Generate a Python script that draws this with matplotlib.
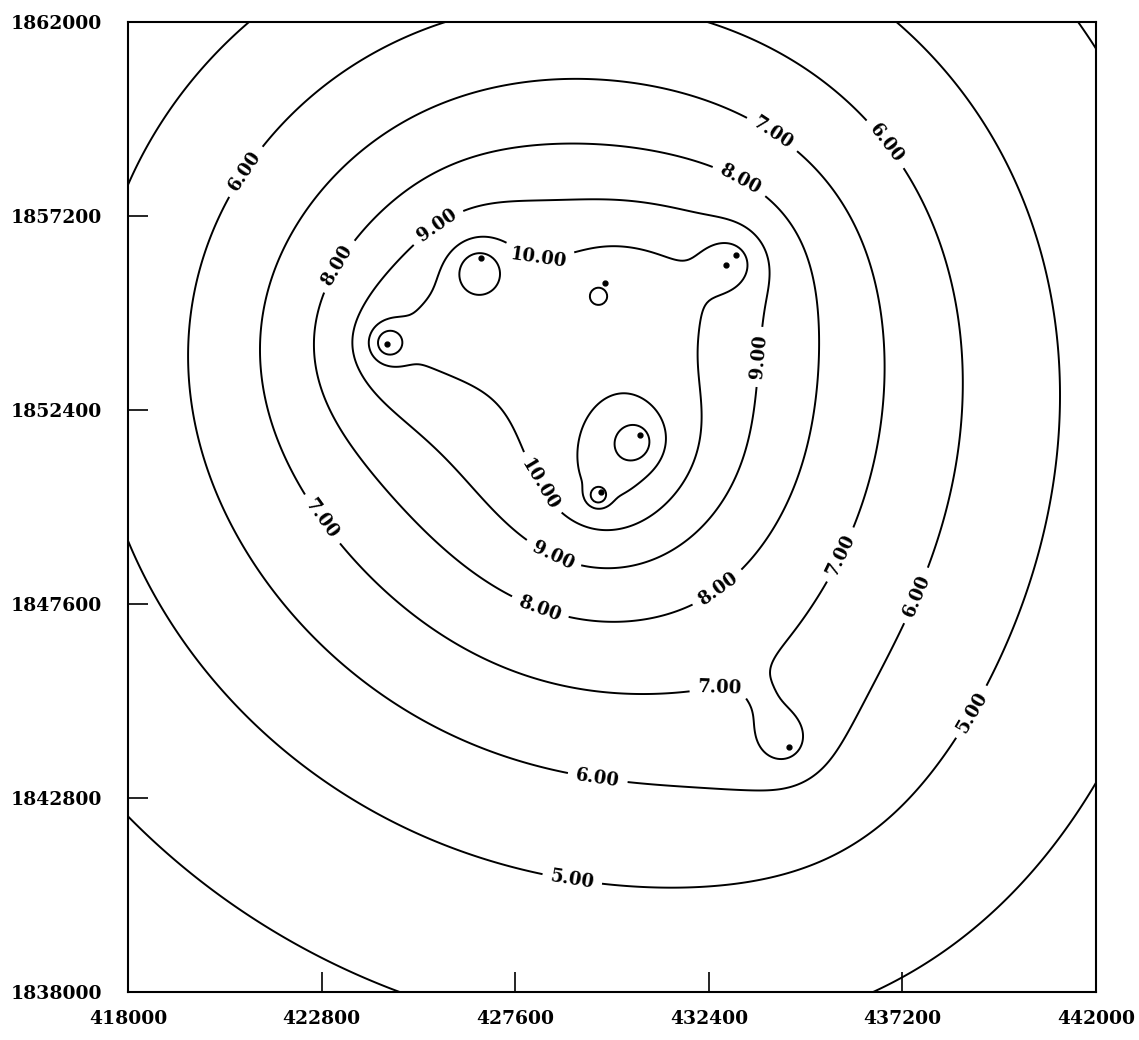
import numpy as np
import matplotlib.pyplot as plt

plt.rcParams['font.family'] = 'DejaVu Serif'

# wells (easting, northing) and their strength
well_x = [424420, 426750, 429825, 433070, 432825, 430690, 429725, 434385]
well_y = [1854035, 1856160, 1855545, 1856235, 1855990, 1851780, 1850370, 1844065]
well_q = [0.80, 0.65, 0.40, 0.37, 0.37, 0.90, 0.80, 0.40]

# local highs on top of the mound: centre, height, radius (m)
peak_x = [424445, 426675, 429650, 432950, 430545, 429650, 434215, 425860, 430690,
          430075, 433865]
peak_y = [1854060, 1855840, 1855220, 1856060, 1851585, 1850275, 1844235, 1854505,
          1855495, 1851040, 1845105]
peak_h = [1.8, 1.45, 0.9, 0.9, 1.2, 1.8, 1.1, 0.4, 0.4, 0.35, 0.25]
peak_r = [310, 455, 150, 495, 345, 175, 420, 1360, 1240, 990, 545]

base_head = 4.0
slope_east = -0.005    # per km, regional
slope_north = -0.003
influence_radius = 15360.0
core_radius = 750.0
# regional bowl around the mound
bowl_x, bowl_y, bowl_r = 429600, 1852650, 15000.0
bowl_a, bowl_b = 0.55, 0.60

levels = [4, 5, 6, 7, 8, 9, 10, 11, 12]
x_ticks = [418000, 422800, 427600, 432400, 437200, 442000]
y_ticks = [1838000, 1842800, 1847600, 1852400, 1857200, 1862000]

# where the contour values get written
label_pos = [
    (420850, 1858340), (423080, 1856040), (425560, 1857100), (428240, 1856610),
    (433990, 1859250), (433170, 1858090), (436820, 1859010), (433670, 1853710),
    (422880, 1849750), (428090, 1850500), (428510, 1848760), (428210, 1847500),
    (432600, 1848020), (435580, 1848860), (432680, 1845180), (437560, 1847800),
    (439120, 1844810), (429630, 1843200), (429010, 1840770),
]

gx, gy = np.meshgrid(np.linspace(x_ticks[0], x_ticks[-1], 481),
                     np.linspace(y_ticks[0], y_ticks[-1], 481))
head = (base_head + slope_east * (gx - 430000) / 1000
        + slope_north * (gy - bowl_y) / 1000)
u2 = ((gx - bowl_x) ** 2 + (gy - bowl_y) ** 2) / bowl_r ** 2
head += -bowl_a * u2 + bowl_b * u2 ** 2
for x0, y0, q in zip(well_x, well_y, well_q):
    rho = np.hypot(np.hypot(gx - x0, gy - y0), core_radius)
    head += q * np.log(influence_radius / rho)
for x0, y0, h, r in zip(peak_x, peak_y, peak_h, peak_r):
    head += h * np.exp(-((gx - x0) ** 2 + (gy - y0) ** 2) / (2 * r ** 2))

fig = plt.figure(figsize=(11.39, 10.4), dpi=100)
ax = fig.add_axes([0.1124, 0.0462, 0.8499, 0.9327])

cs = ax.contour(gx, gy, head, levels=levels, colors='black', linewidths=1.4)
lbls = ax.clabel(cs, manual=label_pos, fmt='%.2f', fontsize=13, inline=True,
                 inline_spacing=10)
for t in lbls:
    t.set_fontweight('bold')

ax.plot(well_x, well_y, 'o', color='black', ms=3.5)

ax.set_xlim(x_ticks[0], x_ticks[-1])
ax.set_ylim(y_ticks[0], y_ticks[-1])
ax.set_xticks(x_ticks)
ax.set_yticks(y_ticks)
ax.set_xticklabels([str(v) for v in x_ticks], fontweight='bold')
ax.set_yticklabels([str(v) for v in y_ticks], fontweight='bold')
ax.tick_params(direction='in', length=14.4, width=1.2, labelsize=13.5,
               top=False, right=False)
ax.tick_params(axis='x', pad=13)
ax.tick_params(axis='y', pad=18.5)
for sp in ax.spines.values():
    sp.set_linewidth(1.5)

fig.savefig('out.png', dpi=100)
